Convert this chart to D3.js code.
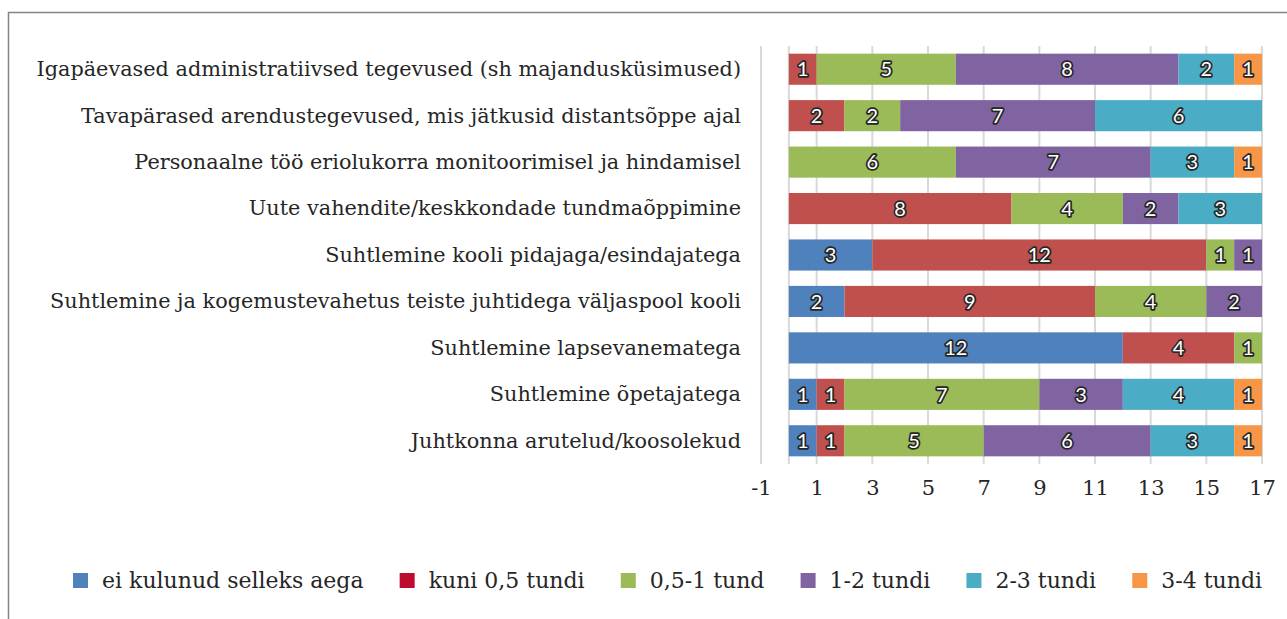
<!DOCTYPE html>
<html>
<head>
<meta charset="utf-8">
<script src="https://cdn.jsdelivr.net/npm/d3@7"></script>
<style>
  body { margin: 0; background: #fff; }
  svg { display: block; }
</style>
</head>
<body>
<script>
// kategooriad ülevalt alla
let categories = [
  "Igapäevased administratiivsed tegevused (sh majandusküsimused)",
  "Tavapärased arendustegevused, mis jätkusid distantsõppe ajal",
  "Personaalne töö eriolukorra monitoorimisel ja hindamisel",
  "Uute vahendite/keskkondade tundmaõppimine",
  "Suhtlemine kooli pidajaga/esindajatega",
  "Suhtlemine ja kogemustevahetus teiste juhtidega väljaspool kooli",
  "Suhtlemine lapsevanematega",
  "Suhtlemine õpetajatega",
  "Juhtkonna arutelud/koosolekud"
];

let seriesNames = ["ei kulunud selleks aega", "kuni 0,5 tundi", "0,5-1 tund", "1-2 tundi", "2-3 tundi", "3-4 tundi"];
let noTime   = [0, 0, 0, 0, 3, 2, 12, 1, 1];
let upTo05   = [1, 2, 0, 8, 12, 9, 4, 1, 1];
let h05to1   = [5, 2, 6, 4, 1, 4, 1, 7, 5];
let h1to2    = [8, 7, 7, 2, 1, 2, 0, 3, 6];
let h2to3    = [2, 6, 3, 3, 0, 0, 0, 4, 3];
let h3to4    = [1, 0, 1, 0, 0, 0, 0, 1, 1];
let xTicks = [-1, 1, 3, 5, 7, 9, 11, 13, 15, 17];

let barColors = ["#4f81bd", "#c0504d", "#9bbb59", "#8064a2", "#4bacc6", "#f79646"];
let legendColors = ["#4f81bd", "#be0b30", "#9bbb59", "#8064a2", "#4bacc6", "#f79646"];

let serif = '"DejaVu Serif", "Liberation Serif", serif';
let width = 1287, height = 619;
let svg = d3.select('body').append('svg')
    .attr('width', width)
    .attr('height', height);

// raam
svg.append('rect')
    .attr('x', 8.5).attr('y', 12.5)
    .attr('width', width).attr('height', height)
    .attr('fill', 'none')
    .attr('stroke', '#858585')
    .attr('stroke-width', 1.5);

let allSeries = [noTime, upTo05, h05to1, h1to2, h2to3, h3to4];
let table = categories.map(function(c, i) {
    let row = { cat: c };
    seriesNames.forEach(function(s, k) { row[s] = allSeries[k][i]; });
    return row;
});
let stacked = d3.stack().keys(seriesNames)(table);

let x = d3.scaleLinear().domain([-1, 17]).range([761, 1262]);
let y = d3.scaleBand().domain(categories).range([46, 464]).paddingInner(0.33).paddingOuter(0.165);

// ruudujooned
svg.selectAll('line.grid')
    .data(xTicks.concat([0]))
    .enter()
    .append('line')
    .attr('class', 'grid')
    .attr('x1', function(d) { return x(d); })
    .attr('x2', function(d) { return x(d); })
    .attr('y1', 46)
    .attr('y2', 464)
    .attr('stroke', '#d9d9d9')
    .attr('stroke-width', 2);

// tulbad
let groups = svg.selectAll('g.series')
    .data(stacked)
    .enter()
    .append('g')
    .attr('fill', function(d, i) { return barColors[i]; });

groups.selectAll('rect')
    .data(function(d) { return d; })
    .enter()
    .append('rect')
    .attr('x', function(d) { return x(d[0]); })
    .attr('y', function(d) { return y(d.data.cat); })
    .attr('width', function(d) { return x(d[1]) - x(d[0]); })
    .attr('height', y.bandwidth());

// väärtused
groups.selectAll('text')
    .data(function(d) { return d.filter(function(p) { return p[1] - p[0] > 0; }); })
    .enter()
    .append('text')
    .attr('x', function(d) { return (x(d[0]) + x(d[1])) / 2; })
    .attr('y', function(d) { return y(d.data.cat) + y.bandwidth() / 2; })
    .attr('dy', '0.36em')
    .attr('text-anchor', 'middle')
    .attr('font-family', 'Lato, "Open Sans", sans-serif')
    .attr('font-size', '20px')
    .attr('fill', '#fff')
    .attr('stroke', '#262626')
    .attr('stroke-width', 3.5)
    .attr('stroke-linejoin', 'round')
    .attr('paint-order', 'stroke')
    .text(function(d) { return d[1] - d[0]; });

// kategooriate sildid
svg.selectAll('text.cat')
    .data(categories)
    .enter()
    .append('text')
    .attr('class', 'cat')
    .attr('x', 741)
    .attr('y', function(d) { return y(d) + y.bandwidth() / 2; })
    .attr('dy', '0.33em')
    .attr('text-anchor', 'end')
    .attr('font-family', serif)
    .attr('font-size', '20.8px')
    .attr('fill', '#262626')
    .text(function(d) { return d; });

// x telg
let axisX = d3.axisBottom(x).tickValues(xTicks).tickSize(0).tickPadding(0);
let gx = svg.append('g').attr('transform', 'translate(0,480)').call(axisX);
gx.select('.domain').remove();
gx.selectAll('text')
    .attr('dy', '0.71em')
    .attr('font-family', serif)
    .attr('font-size', '21px')
    .attr('fill', '#262626')
    .text(function(d) { return d < 0 ? '-' + Math.abs(d) : d; });

// legend, 73..1262
let legend = svg.append('g');
let items = legend.selectAll('g')
    .data(seriesNames)
    .enter()
    .append('g');
items.append('rect')
    .attr('width', 15).attr('height', 15)
    .attr('y', 573)
    .attr('fill', function(d, i) { return legendColors[i]; });
items.append('text')
    .attr('x', 29)
    .attr('y', 580.5)
    .attr('dy', '0.35em')
    .attr('font-family', serif)
    .attr('font-size', '22px')
    .attr('fill', '#262626')
    .text(function(d) { return d; });
let widths = [];
items.each(function() { widths.push(29 + this.querySelector('text').getComputedTextLength()); });
let gap = (1262 - 73 - d3.sum(widths)) / (widths.length - 1);
let pos = 73, offs = [];
widths.forEach(function(w) { offs.push(pos); pos += w + gap; });
items.attr('transform', function(d, i) { return 'translate(' + offs[i] + ',0)'; });
</script>
</body>
</html>
